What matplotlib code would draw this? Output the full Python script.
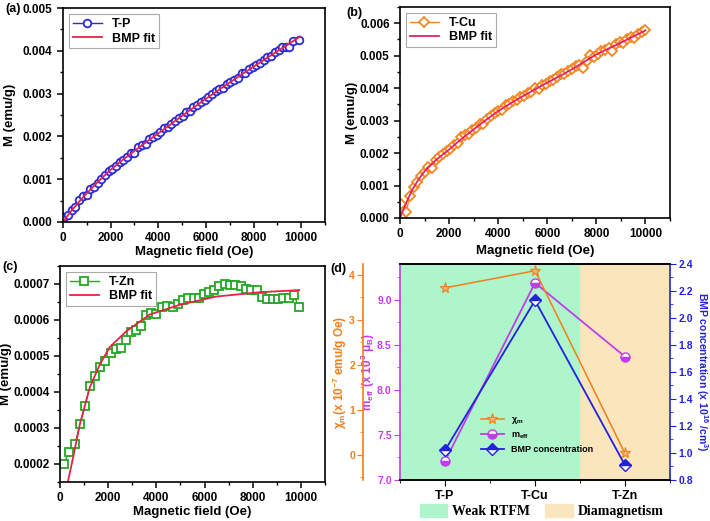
import matplotlib
matplotlib.use("Agg")
import matplotlib.pyplot as plt
from matplotlib.patches import Patch
from matplotlib.ticker import MultipleLocator, FormatStrFormatter

# --- (a) T-P ---
tp_h = [60, 210, 360, 520, 680, 830, 990, 1140, 1300, 1450, 1610, 1760, 1920, 2070, 2230, 2380,
        2540, 2690, 2850, 3000, 3160, 3310, 3470, 3620, 3780, 3930, 4090, 4240, 4400, 4550, 4710,
        4860, 5020, 5170, 5330, 5480, 5640, 5790, 5950, 6100, 6260, 6410, 6570, 6720, 6880, 7030,
        7190, 7340, 7500, 7650, 7810, 7960, 8120, 8270, 8430, 8580, 8740, 8890, 9050, 9200, 9360,
        9510, 9670, 9900]
tp_m = [0.00012, 0.00017, 0.00028, 0.00036, 0.00051, 0.00060, 0.00064, 0.00077, 0.00081, 0.00092,
        0.00101, 0.00110, 0.00120, 0.00124, 0.00130, 0.00140, 0.00145, 0.00153, 0.00161, 0.00162,
        0.00175, 0.00180, 0.00182, 0.00193, 0.00199, 0.00204, 0.00210, 0.00219, 0.00223, 0.00230,
        0.00236, 0.00243, 0.00248, 0.00256, 0.00260, 0.00268, 0.00273, 0.00281, 0.00285, 0.00293,
        0.00298, 0.00305, 0.00310, 0.00312, 0.00322, 0.00328, 0.00332, 0.00337, 0.00347, 0.00348,
        0.00358, 0.00362, 0.00368, 0.00372, 0.00378, 0.00385, 0.00389, 0.00397, 0.00401, 0.00408,
        0.00410, 0.00410, 0.00423, 0.00425]
tp_fit_h = [0, 250, 500, 750, 1000, 1500, 2000, 2500, 3000, 3500, 4000, 5000, 6000, 7000, 8000, 9000, 9950]
tp_fit_m = [0.0, 0.00019, 0.00036, 0.00052, 0.00067, 0.00096, 0.00122, 0.00145, 0.00166, 0.00187,
            0.00207, 0.00248, 0.00288, 0.00326, 0.00363, 0.00399, 0.00433]

# --- (b) T-Cu ---
tcu_h = [60, 250, 400, 550, 700, 850, 1000, 1150, 1300, 1450, 1600, 1750, 1900, 2050, 2200, 2350,
         2500, 2650, 2800, 2950, 3100, 3250, 3400, 3550, 3700, 3850, 4000, 4150, 4300, 4450, 4600,
         4750, 4900, 5050, 5200, 5350, 5500, 5650, 5800, 5950, 6100, 6250, 6400, 6550, 6700, 6850,
         7000, 7150, 7300, 7450, 7600, 7750, 7900, 8050, 8200, 8350, 8500, 8650, 8800, 8950, 9100,
         9250, 9400, 9550, 9700, 9850, 10000]
tcu_m = [0.00042, 0.00018, 0.00068, 0.00095, 0.00110, 0.00130, 0.00142, 0.00157, 0.00155, 0.00178,
         0.00188, 0.00197, 0.00206, 0.00213, 0.00225, 0.00232, 0.00250, 0.00255, 0.00260, 0.00270,
         0.00278, 0.00290, 0.00288, 0.00306, 0.00313, 0.00323, 0.00330, 0.00333, 0.00348, 0.00350,
         0.00360, 0.00362, 0.00372, 0.00376, 0.00385, 0.00388, 0.00399, 0.00397, 0.00410, 0.00413,
         0.00422, 0.00426, 0.00435, 0.00443, 0.00445, 0.00453, 0.00458, 0.00468, 0.00472, 0.00463,
         0.00485, 0.00502, 0.00497, 0.00505, 0.00513, 0.00518, 0.00525, 0.00515, 0.00535, 0.00542,
         0.00540, 0.00551, 0.00558, 0.00555, 0.00568, 0.00572, 0.00579]
tcu_fit_h = [0, 250, 500, 750, 1000, 1500, 2000, 2500, 3000, 3500, 4000, 4500, 5000, 5500, 6000,
             6500, 7000, 7500, 8000, 8500, 9000, 9500, 10000]
tcu_fit_m = [0.0, 0.00046, 0.00087, 0.00118, 0.00144, 0.00181, 0.00211, 0.00243, 0.00273, 0.00302,
             0.00329, 0.00353, 0.00375, 0.00396, 0.00417, 0.00437, 0.00458, 0.00481, 0.00504,
             0.00522, 0.00540, 0.00559, 0.00578]

# --- (c) T-Zn ---
tzn_h = [165, 372, 620, 830, 1035, 1240, 1450, 1655, 1875, 2110, 2320, 2525, 2730, 2950, 3170, 3380,
         3590, 3790, 4000, 4230, 4455, 4690, 4900, 5100, 5320, 5545, 5750, 5960, 6180, 6400, 6620,
         6840, 7060, 7280, 7500, 7720, 7945, 8165, 8390, 8600, 8830, 9050, 9270, 9490, 9710, 9930]
tzn_m = [0.000200, 0.000234, 0.000255, 0.000310, 0.000362, 0.000416, 0.000445, 0.000468, 0.000486,
         0.000509, 0.000518, 0.000523, 0.000543, 0.000567, 0.000571, 0.000583, 0.000615, 0.000620,
         0.000617, 0.000635, 0.000640, 0.000635, 0.000644, 0.000656, 0.000660, 0.000662, 0.000662,
         0.000672, 0.000679, 0.000683, 0.000693, 0.000700, 0.000697, 0.000697, 0.000695, 0.000685,
         0.000683, 0.000682, 0.000665, 0.000658, 0.000658, 0.000658, 0.000660, 0.000660, 0.000668,
         0.000635]
tzn_fit_h = [250, 345, 550, 830, 1240, 1655, 2070, 2760, 3720, 4970, 6480, 8280, 9930]
tzn_fit_m = [0.000090, 0.000156, 0.000220, 0.000312, 0.000413, 0.000477, 0.000525, 0.000569,
             0.000615, 0.000642, 0.000665, 0.000677, 0.000683]

# --- (d) summary ---
samples = ['T-P', 'T-Cu', 'T-Zn']
chi_m = [3.71, 4.09, 0.03]
m_eff = [7.21, 9.19, 8.37]
bmp_conc = [1.02, 2.13, 0.91]

plt.rcParams['font.family'] = ['Liberation Sans', 'DejaVu Sans']
plt.rcParams['font.weight'] = 'bold'
plt.rcParams['axes.labelweight'] = 'bold'
plt.rcParams['axes.linewidth'] = 1.2
plt.rcParams['mathtext.default'] = 'regular'

RED = '#ea2048'
fig = plt.figure(figsize=(7.1, 5.21), dpi=100)


def style_mag(ax, xlab_y, ylab_x):
    ax.tick_params(which='both', direction='out', top=False, right=False, labelsize=8.5)
    ax.tick_params(which='major', length=4, width=1.1)
    ax.tick_params(which='minor', length=2.5, width=1.0)
    ax.set_xlim(0, 11000)
    ax.xaxis.set_major_locator(MultipleLocator(2000))
    ax.xaxis.set_minor_locator(MultipleLocator(1000))
    ax.set_xlabel('Magnetic field (Oe)', fontsize=9.5)
    ax.set_ylabel('M (emu/g)', fontsize=9.5)
    ax.xaxis.set_label_coords(0.5, xlab_y)
    ax.yaxis.set_label_coords(ylab_x, 0.5)
    leg = ax.legend(loc='upper left', fontsize=9, handlelength=2.3, borderpad=0.3,
                    labelspacing=0.2, fancybox=False, edgecolor='#aaaaaa', framealpha=1)
    leg.get_frame().set_linewidth(0.8)


# panel (a)
ax_a = fig.add_axes([0.0887, 0.5739, 0.369, 0.4107])
ax_a.plot(tp_h, tp_m, '-o', color='#2a2ad8', ms=5.5, mfc='white', mew=1.3, lw=1.0, label='T-P')
ax_a.plot(tp_fit_h, tp_fit_m, '-', color=RED, lw=1.3, label='BMP fit')
ax_a.set_ylim(0, 0.005)
ax_a.yaxis.set_major_locator(MultipleLocator(0.001))
ax_a.yaxis.set_minor_locator(MultipleLocator(0.0005))
ax_a.yaxis.set_major_formatter(FormatStrFormatter('%.3f'))
style_mag(ax_a, -0.11, -0.18)

# panel (b)
ax_b = fig.add_axes([0.5634, 0.5816, 0.3803, 0.405])
ax_b.plot(tcu_h, tcu_m, '-D', color='#f5861f', ms=5, mfc='white', mew=1.3, lw=1.0, label='T-Cu')
ax_b.plot(tcu_fit_h, tcu_fit_m, '-', color='#e8206a', lw=1.3, label='BMP fit')
ax_b.set_ylim(0, 0.0065)
ax_b.yaxis.set_major_locator(MultipleLocator(0.001))
ax_b.yaxis.set_minor_locator(MultipleLocator(0.0005))
ax_b.yaxis.set_major_formatter(FormatStrFormatter('%.3f'))
style_mag(ax_b, -0.13, -0.155)

# panel (c)
ax_c = fig.add_axes([0.0845, 0.0749, 0.3732, 0.4146])
ax_c.plot(tzn_h, tzn_m, '-s', color='#22a822', ms=5.5, mfc='white', mew=1.3, lw=1.0, label='T-Zn')
ax_c.plot(tzn_fit_h, tzn_fit_m, '-', color=RED, lw=1.3, label='BMP fit')
ax_c.set_ylim(0.00015, 0.00075)
ax_c.yaxis.set_major_locator(MultipleLocator(0.0001))
ax_c.yaxis.set_minor_locator(MultipleLocator(0.00005))
ax_c.yaxis.set_major_formatter(FormatStrFormatter('%.4f'))
style_mag(ax_c, -0.11, -0.18)

# panel (d)
ORANGE = '#f07f1a'
MAGENTA = '#c03ee8'
BLUE = '#2222dd'
xs = [1, 2, 3]
ax_d = fig.add_axes([0.5634, 0.0787, 0.3803, 0.4146])
ax_d.axvspan(0.5, 2.5, color='#aef5cc', zorder=0, lw=0)
ax_d.axvspan(2.5, 3.5, color='#fbe5bd', zorder=0, lw=0)
ax_d.set_xlim(0.5, 3.5)
ax_d.set_xticks(xs)
ax_d.set_xticklabels(samples, fontsize=9)
ax_d.xaxis.set_minor_locator(MultipleLocator(0.5))
l_meff, = ax_d.plot(xs, m_eff, '-o', color=MAGENTA, ms=6.5, fillstyle='bottom',
                    markerfacecoloralt='white', mew=1.0, lw=1.3, label='m$_{eff}$', zorder=3)
ax_d.set_ylim(7.0, 9.4)
ax_d.yaxis.set_major_locator(MultipleLocator(0.5))
ax_d.yaxis.set_minor_locator(MultipleLocator(0.25))
ax_d.yaxis.set_major_formatter(FormatStrFormatter('%.1f'))
ax_d.spines['left'].set_color(MAGENTA)
ax_d.spines['right'].set_visible(False)
ax_d.tick_params(axis='y', which='both', colors=MAGENTA, direction='out', labelsize=7.5, pad=2)
ax_d.tick_params(axis='x', which='both', direction='out', top=False)
ax_d.tick_params(which='major', length=4)
ax_d.tick_params(which='minor', length=2.5)
ax_d.set_ylabel('m$_{eff}$ (x 10$^3$ μ$_B$)', color=MAGENTA, fontsize=8.5)
ax_d.yaxis.set_label_coords(-0.086, 0.5)

# outer left axis for chi_m (offset given in points: 27 pt ~ 38 px)
ax_chi = ax_d.twinx()
ax_chi.spines['left'].set_position(('outward', 27))
ax_chi.spines['left'].set_visible(True)
ax_chi.spines['left'].set_color(ORANGE)
ax_chi.spines['right'].set_visible(False)
ax_chi.spines['top'].set_visible(False)
ax_chi.spines['bottom'].set_visible(False)
ax_chi.yaxis.set_ticks_position('left')
ax_chi.yaxis.set_label_position('left')
l_chi, = ax_chi.plot(xs, chi_m, '-*', color=ORANGE, ms=8, mfc='#f8b070', mew=0.8, lw=1.1,
                     label='χ$_m$', zorder=3)
ax_chi.set_ylim(-0.56, 4.24)
ax_chi.yaxis.set_major_locator(MultipleLocator(1))
ax_chi.yaxis.set_minor_locator(MultipleLocator(0.5))
ax_chi.tick_params(axis='y', which='both', colors=ORANGE, direction='out', labelsize=7.5, pad=1.5)
ax_chi.tick_params(which='major', length=4)
ax_chi.tick_params(which='minor', length=2.5)
ax_chi.set_ylabel('χ$_m$(x 10$^{-7}$ emu/g Oe)', color=ORANGE, fontsize=8.5)
ax_chi.yaxis.set_label_coords(-0.19, 0.5)

ax_bmp = ax_d.twinx()
ax_bmp.spines['right'].set_color(BLUE)
ax_bmp.spines['left'].set_visible(False)
l_bmp, = ax_bmp.plot(xs, bmp_conc, '-D', color=BLUE, ms=6, fillstyle='top',
                     markerfacecoloralt='white', mew=1.0, lw=1.3, label='BMP concentration', zorder=3)
ax_bmp.set_ylim(0.8, 2.4)
ax_bmp.yaxis.set_major_locator(MultipleLocator(0.2))
ax_bmp.yaxis.set_minor_locator(MultipleLocator(0.1))
ax_bmp.yaxis.set_major_formatter(FormatStrFormatter('%.1f'))
ax_bmp.tick_params(axis='y', which='both', colors=BLUE, direction='out', labelsize=7.5, pad=2)
ax_bmp.tick_params(which='major', length=4)
ax_bmp.tick_params(which='minor', length=2.5)
ax_bmp.set_ylabel('BMP concentration (x 10$^{16}$ /cm$^3$)', color=BLUE, fontsize=7.5,
                  rotation=270, va='center')
ax_bmp.yaxis.set_label_coords(1.118, 0.5)

ax_bmp.legend(handles=[l_chi, l_meff, l_bmp], loc='upper left', bbox_to_anchor=(0.27, 0.34),
              fontsize=6.5, frameon=False, handlelength=2.5, labelspacing=0.5)

# bottom region legend
fig.legend(handles=[Patch(color='#aef5cc', label='Weak RTFM'),
                    Patch(color='#fbe5bd', label='Diamagnetism')],
           loc='center', bbox_to_anchor=(0.763, 0.019), ncol=2, frameon=False,
           handlelength=2.0, handleheight=1.0, columnspacing=1.1, handletextpad=0.35,
           prop={'family': 'Liberation Serif', 'weight': 'bold', 'size': 10})

# panel letters
fig.text(0.008, 0.982, '(a)', fontsize=9, fontweight='bold', va='center')
fig.text(0.488, 0.975, '(b)', fontsize=9, fontweight='bold', va='center')
fig.text(0.004, 0.487, '(c)', fontsize=9, fontweight='bold', va='center')
fig.text(0.466, 0.484, '(d)', fontsize=9, fontweight='bold', va='center')

fig.savefig('out.png', dpi=100)
